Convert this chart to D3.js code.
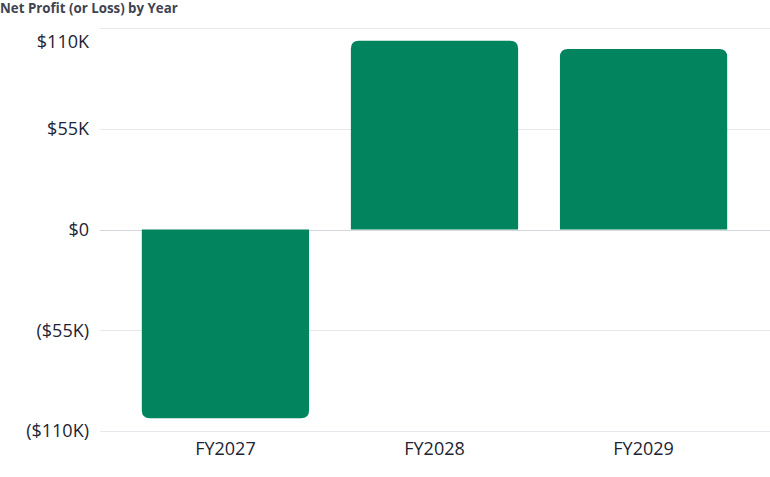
<!DOCTYPE html>
<html>
<head>
<meta charset="utf-8">
<script src="https://cdn.jsdelivr.net/npm/d3@7"></script>
<style>
  body { margin: 0; background: #fff; }
  svg { display: block; font-family: "Open Sans", Lato, sans-serif; }
</style>
</head>
<body>
<svg id="chart" width="770" height="477"></svg>
<script>
const years = ['FY2027', 'FY2028', 'FY2029'];
const netProfit = [-103000, 103000, 98500];
const yTicks = [-110000, -55000, 0, 55000, 110000];

const width = 770;
const margin = { top: 28, right: 1, bottom: 46, left: 100 };
const height = 477;

const svg = d3.select('#chart');

const x = d3.scaleBand()
  .domain(years)
  .range([margin.left, width - margin.right])
  .paddingInner(0.2)
  .paddingOuter(0.2);

const y = d3.scaleLinear()
  .domain([-110000, 110000])
  .range([height - margin.bottom, margin.top]);

const fmt = (v) => {
  if (v === 0) return '$0';
  const s = '$' + Math.abs(v / 1000) + 'K';
  return v < 0 ? '(' + s + ')' : s;
};

svg.append('text')
  .attr('x', 0)
  .attr('y', 13)
  .attr('fill', '#3f4451')
  .style('font-size', '13.3px')
  .style('font-weight', 700)
  .text('Net Profit (or Loss) by Year');

// grid
svg.append('g')
  .selectAll('line')
  .data(yTicks)
  .enter().append('line')
  .attr('x1', margin.left)
  .attr('x2', width)
  .attr('y1', (d) => Math.round(y(d)) + 0.5)
  .attr('y2', (d) => Math.round(y(d)) + 0.5)
  .attr('stroke', (d) => d === 0 ? '#d4d7dc' : '#e6e8eb')
  .attr('stroke-width', 1);

// y labels (top one is pushed down so it stays clear of the title)
svg.append('g')
  .selectAll('text')
  .data(yTicks)
  .enter().append('text')
  .attr('x', 89)
  .attr('y', (d) => Math.max(y(d), margin.top + 14))
  .attr('dy', '0.36em')
  .attr('text-anchor', 'end')
  .attr('fill', '#1d2433')
  .style('font-size', '18px')
  .text(fmt);

// bars, rounded at the far end only
const r = 8;
function barPath(d, i) {
  const x0 = x(years[i]);
  const w = x.bandwidth();
  const y0 = y(0);
  const y1 = y(d);
  if (d >= 0) {
    return `M${x0},${y0}V${y1 + r}Q${x0},${y1} ${x0 + r},${y1}H${x0 + w - r}Q${x0 + w},${y1} ${x0 + w},${y1 + r}V${y0}Z`;
  }
  return `M${x0},${y0}V${y1 - r}Q${x0},${y1} ${x0 + r},${y1}H${x0 + w - r}Q${x0 + w},${y1} ${x0 + w},${y1 - r}V${y0}Z`;
}

svg.append('g')
  .selectAll('path')
  .data(netProfit)
  .enter().append('path')
  .attr('d', barPath)
  .attr('fill', '#02845f');

// x labels
svg.append('g')
  .selectAll('text')
  .data(years)
  .enter().append('text')
  .attr('x', (d) => x(d) + x.bandwidth() / 2)
  .attr('y', 455)
  .attr('text-anchor', 'middle')
  .attr('fill', '#1d2433')
  .style('font-size', '18px')
  .text((d) => d);
</script>
</body>
</html>
